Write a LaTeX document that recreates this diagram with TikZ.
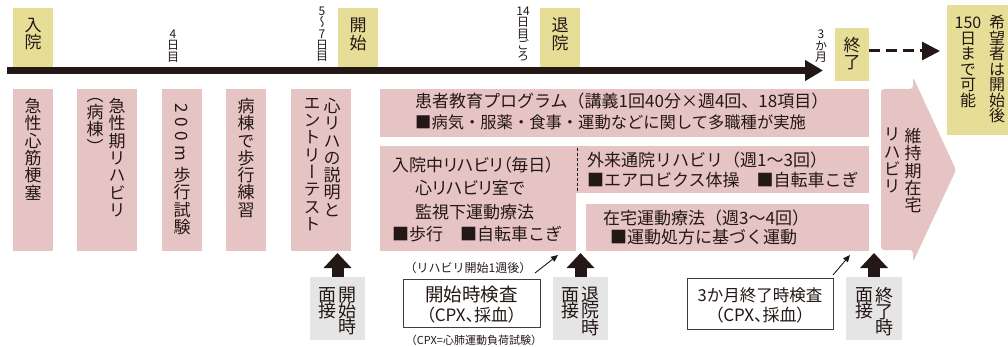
\documentclass[tikz,border=0pt]{standalone}
\usepackage{fontspec}
\usepackage{graphicx}
\usetikzlibrary{arrows.meta}
\setmainfont{Noto Sans CJK JP}
\newfontfamily\vfont[RawFeature=+vert]{Noto Sans CJK JP}
\newfontfamily\pfont[RawFeature=+palt]{Noto Sans CJK JP}
\definecolor{pinkc}{RGB}{231,196,196}
\definecolor{yelc}{RGB}{230,222,150}
\definecolor{grayc}{RGB}{229,229,229}
\definecolor{inkc}{RGB}{35,24,21}
\tikzset{
  pbox/.style={fill=pinkc, draw=none, inner sep=0pt, outer sep=0pt},
  ybox/.style={fill=yelc, draw=none, inner sep=0pt, outer sep=0pt},
  gbox/.style={fill=grayc, draw=none, inner sep=0pt, outer sep=0pt},
  tbox/.style={fill=white, draw=inkc!85, line width=0.9pt, inner sep=0pt, outer sep=0pt},
  vtx/.style={align=center, inner sep=0pt, anchor=north, text=inkc},
  vtl/.style={vtx, font={\vfont\fontsize{17}{17.3}\selectfont\lineskiplimit=-30pt}},
  vts/.style={vtx, font={\vfont\fontsize{12}{11.2}\selectfont\lineskiplimit=-30pt}},
  vtm/.style={vtx, font={\vfont\fontsize{16}{15.5}\selectfont\lineskiplimit=-30pt}},
  vtg/.style={vtx, font={\vfont\fontsize{18}{16.2}\selectfont\lineskiplimit=-30pt}},
  htx/.style={inner sep=0pt, anchor=west, text=inkc, font={\fontsize{17}{20}\selectfont}},
  ctx/.style={inner sep=0pt, text=inkc},
  fatarrow/.style={draw=inkc, line width=12pt, -{Triangle[width=27pt,length=15pt]}},
  thinarr/.style={draw=inkc, line width=0.9pt, -{Triangle[width=6pt,length=7pt]}},
}
\begin{document}
\begin{tikzpicture}[x=1pt,y=-1pt]
\useasboundingbox (0,0) rectangle (1008,347);

% ---- top yellow labels
\node[ybox, minimum width=40pt, minimum height=59pt] (nyu) at (33,37.5) {};
\node[vtl] (nyuT) at (33,18) {入\\院};
\node[ybox, minimum width=40pt, minimum height=59pt] (kai) at (358,37.5) {};
\node[vtl] (kaiT) at (358,18) {開\\始};
\node[ybox, minimum width=40pt, minimum height=59pt] (tai) at (560,37.5) {};
\node[vtl] (taiT) at (560,18) {退\\院};
\node[ybox, minimum width=34pt, minimum height=53pt] (owa) at (852,54.5) {};
\node[vtl] (owaT) at (852,37) {終\\了};

% ---- day labels
\node[vts] (d4) at (173,30) {4\\日\\目};
\node[vts] (d5) at (322,7) {5\\〜\\7\\日\\目};
\node[vts] (d14) at (523,7) {14\\日\\目\\ご\\ろ};
\node[vts] (d3m) at (821,30) {3\\か\\月};

% ---- right yellow box
\node[ybox, minimum width=61pt, minimum height=130pt] (kib) at (977.5,70) {};
\node[vtm] (kibR) at (997,15) {希\\望\\者\\は\\開\\始\\後};
\node[vtm] (kibL) at (968,17) {150\\日\\ま\\で\\可\\能};

% ---- timeline
\coordinate (tl0) at (7,70.5);
\coordinate (tl1) at (823,70.5);
\draw[draw=inkc, line width=7pt, -{Triangle[width=20pt,length=18pt]}] (tl0) -- (tl1);
\coordinate (da) at (869,51);
\coordinate (db) at (940,51);
\draw[draw=inkc, line width=3pt, dash pattern=on 11pt off 6pt, -{Triangle[width=18pt,length=18pt]}] (da) -- (db);

% ---- pink columns
\node[pbox, minimum width=40pt, minimum height=162pt] (b1) at (33,170) {};
\node[vtl] (b1T) at (33,98) {急\\性\\心\\筋\\梗\\塞};
\node[pbox, minimum width=60pt, minimum height=162pt] (b2) at (107,170) {};
\node[vtl] (b2R) at (117,98) {急\\性\\期\\リ\\ハ\\ビ\\リ};
\node[vtl] (b2L) at (95,98) {（\\病\\棟\\）};
\node[pbox, minimum width=40pt, minimum height=162pt] (b3) at (182,170) {};
\node[ctx, rotate=-90, anchor=west, font={\fontsize{17}{17}\selectfont}] (b3A) at (182,103) {2\kern4.5pt0\kern4.5pt0\kern4.5pt m};
\node[vtl] (b3B) at (182,167) {歩\\行\\試\\験};
\node[pbox, minimum width=40pt, minimum height=162pt] (b4) at (246,170) {};
\node[vtl] (b4T) at (246,98) {病\\棟\\で\\歩\\行\\練\\習};
\node[pbox, minimum width=60pt, minimum height=162pt] (b5) at (321,170) {};
\node[vtl] (b5R) at (332,98) {心\\リ\\ハ\\の\\説\\明\\と};
\node[vtl] (b5L) at (312,98) {エ\\ン\\ト\\リ\\ー\\テ\\ス\\ト};

% ---- education program
\node[pbox, minimum width=489pt, minimum height=48pt] (edu) at (624.5,113) {};
\node[htx] (eduA) at (415,101.5) {患者教育プログラム（講義1回40分×週4回、18項目）};
\node[htx, font={\fontsize{16.3}{20}\selectfont}] (eduB) at (415,122.5) {■病気・服薬・食事・運動などに関して多職種が実施};

% ---- inpatient / outpatient
\node[pbox, minimum width=196pt, minimum height=105pt] (inr) at (478,198.5) {};
\node[pbox, minimum width=293pt, minimum height=47pt] (gai) at (722.5,169.5) {};
\draw[draw=inkc, line width=0.8pt, dash pattern=on 3pt off 2pt] ([xshift=1pt,yshift=-2pt]gai.north west) -- ([xshift=1pt]gai.south west);
\node[htx, font={\pfont\fontsize{17}{20}\selectfont}] (inrA) at (392,165) {入院中リハビリ（毎日）};
\node[htx, font={\pfont\fontsize{17}{20}\selectfont}] (inrB) at (415,188) {心リハビリ室で};
\node[htx] (inrC) at (415,212) {監視下運動療法};
\node[htx] (inrD) at (392,234) {■歩行　■自転車こぎ};
\node[htx] (gaiA) at (587,160) {外来通院リハビリ（週1〜3回）};
\node[htx] (gaiB) at (587,180) {■エアロビクス体操　■自転車こぎ};

% ---- home exercise
\node[pbox, minimum width=283pt, minimum height=47pt] (hom) at (727.5,227.5) {};
\node[htx] (homA) at (603,218) {在宅運動療法（週3〜4回）};
\node[htx] (homB) at (610,237) {■運動処方に基づく運動};

% ---- maintenance chevron
\fill[pinkc, rounded corners=3pt] (881,89) -- (913,89) -- (913,77) -- (956,170) -- (913,262) -- (913,250) -- (881,250) -- cycle;
\node[vtl] (chR) at (913,128) {維\\持\\期\\在\\宅};
\node[vtl] (chL) at (892,128) {リ\\ハ\\ビ\\リ};

% ---- interview boxes
\node[gbox, minimum width=55pt, minimum height=63pt] (g1) at (337.5,308.5) {};
\node[vtg] (g1R) at (347,287) {開\\始\\時};
\node[vtg] (g1L) at (327,287) {面\\接};
\node[gbox, minimum width=55pt, minimum height=63pt] (g2) at (580.5,308.5) {};
\node[vtg] (g2R) at (590,287) {退\\院\\時};
\node[vtg] (g2L) at (570,287) {面\\接};
\node[gbox, minimum width=56pt, minimum height=63pt] (g3) at (874,308.5) {};
\node[vtg] (g3R) at (884,287) {終\\了\\時};
\node[vtg] (g3L) at (864,287) {面\\接};

\draw[fatarrow] (g1.north) -- ([yshift=-2pt]g1.north |- b5.south);
\draw[fatarrow] (g2.north) -- ([yshift=-2pt]g2.north |- inr.south);
\draw[fatarrow] (g3.north) -- ([yshift=-2pt]g3.north |- hom.south);

% ---- tests
\node[tbox, minimum width=137pt, minimum height=48pt] (t1) at (471.5,303) {};
\node[ctx, font={\fontsize{18.5}{20}\selectfont}] (t1A) at (471.5,295) {開始時検査};
\node[ctx, font={\pfont\fontsize{17}{20}\selectfont}] (t1B) at (471.5,315.5) {（CPX、採血）};
\node[tbox, minimum width=146pt, minimum height=51pt] (t2) at (760,303.5) {};
\node[ctx, font={\fontsize{16.5}{20}\selectfont}] (t2A) at (760,295) {3か月終了時検査};
\node[ctx, font={\pfont\fontsize{17}{20}\selectfont}] (t2B) at (760,315.5) {（CPX、採血）};

\node[ctx, font={\fontsize{12}{13}\selectfont}] (lb1) at (468,268) {（リハビリ開始1週後）};
\node[ctx, font={\fontsize{11}{13}\selectfont}] (lb2) at (474,340) {（CPX=心肺運動負荷試験）};

\coordinate (a1s) at (535,273);
\coordinate (a1e) at (558,255);
\draw[thinarr] (a1s) -- (a1e);
\coordinate (a2e) at (850,255);
\draw[thinarr] ([yshift=3pt]t2.north east) -- (a2e);
\end{tikzpicture}
\end{document}
